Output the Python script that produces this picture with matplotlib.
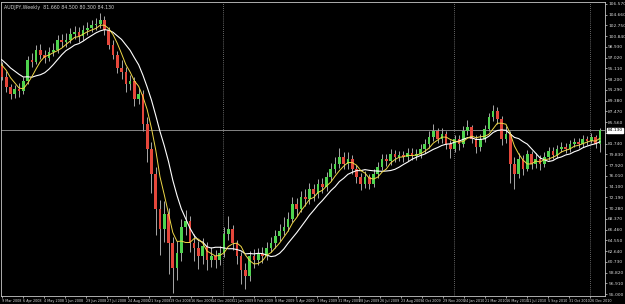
import numpy as np
import pandas as pd
import matplotlib
matplotlib.use("Agg")
import matplotlib.pyplot as plt

######################################
## weekly bars (10 warm-up bars first, not shown)
######################################
opens = [97.20, 97.56, 98.45, 98.09, 97.03, 96.68, 97.56, 96.32, 97.03, 95.97,
         95.62, 93.50, 91.73, 90.49, 91.38, 91.02, 92.79, 96.68, 96.32, 98.45,
         97.56, 97.03, 98.09, 98.45, 100.21, 99.86, 100.21, 101.27, 101.63, 100.92,
         101.98, 102.33, 102.86, 103.04, 103.75, 101.98, 99.33, 97.56, 95.26, 94.56,
         92.26, 92.79, 89.61, 90.49, 85.27, 80.77, 76.36, 70.17, 66.64, 69.29,
         64.00, 59.57, 62.22, 66.99, 68.05, 63.99, 63.11, 61.69, 63.46, 60.99,
         61.69, 60.99, 62.22, 65.76, 66.64, 63.99, 61.69, 59.22, 58.16, 61.69,
         60.99, 62.04, 61.69, 63.11, 63.99, 65.23, 66.29, 66.99, 68.41, 71.06,
         70.17, 72.29, 71.94, 73.71, 72.82, 74.59, 74.06, 75.83, 77.24, 78.12,
         79.36, 78.12, 79.01, 77.24, 75.83, 74.59, 75.83, 74.59, 76.36, 77.60,
         79.01, 78.65, 79.89, 79.36, 79.71, 79.36, 80.07, 79.54, 79.89, 80.77,
         81.66, 82.90, 83.96, 82.54, 83.43, 81.66, 80.77, 82.54, 81.66, 83.96,
         84.66, 82.54, 81.13, 82.54, 84.31, 86.43, 87.49, 86.08, 82.54, 83.43,
         78.12, 76.36, 79.01, 77.24, 79.89, 78.12, 79.01, 78.12, 79.36, 80.42,
         79.71, 80.77, 81.13, 80.77, 81.66, 82.01, 81.66, 82.54, 82.19, 82.90,
         81.66]
closes = [97.56, 98.45, 98.09, 97.03, 96.68, 97.56, 96.32, 97.03, 95.97, 95.62,
          93.50, 91.73, 90.49, 91.38, 91.02, 92.79, 96.68, 96.32, 98.45, 97.56,
          97.03, 98.09, 98.45, 100.21, 99.86, 100.21, 101.27, 101.63, 100.92, 101.98,
          102.33, 102.86, 103.04, 103.75, 101.98, 99.33, 97.56, 95.26, 94.56, 92.26,
          92.79, 89.61, 90.49, 85.27, 80.77, 76.36, 70.17, 66.64, 69.29, 64.00,
          59.57, 62.22, 66.99, 68.05, 63.99, 63.11, 61.69, 63.46, 60.99, 61.69,
          60.99, 62.22, 65.76, 66.64, 63.99, 61.69, 59.22, 58.16, 61.69, 60.99,
          62.04, 61.69, 63.11, 63.99, 65.23, 66.29, 66.99, 68.41, 71.06, 70.17,
          72.29, 71.94, 73.71, 72.82, 74.59, 74.06, 75.83, 77.24, 78.12, 79.36,
          78.12, 79.01, 77.24, 75.83, 74.59, 75.83, 74.59, 76.36, 77.60, 79.01,
          78.65, 79.89, 79.36, 79.71, 79.36, 80.07, 79.54, 79.89, 80.77, 81.66,
          82.90, 83.96, 82.54, 83.43, 81.66, 80.77, 82.54, 81.66, 83.96, 84.66,
          82.54, 81.13, 82.54, 84.31, 86.43, 87.49, 86.08, 82.54, 83.43, 78.12,
          76.36, 79.01, 77.24, 79.89, 78.12, 79.01, 78.12, 79.36, 80.42, 79.71,
          80.77, 81.13, 80.77, 81.66, 82.01, 81.66, 82.54, 82.19, 82.90, 81.66,
          84.13]
highs = [98.3, 99.2, 99.0, 98.6, 97.6, 98.1, 97.9, 97.6, 97.5, 96.6,
         96.3, 94.6, 92.4, 92.1, 92.6, 93.6, 97.4, 97.9, 99.3, 99.5,
         98.4, 99.0, 99.6, 101.1, 101.3, 101.4, 102.3, 102.6, 102.4, 102.9,
         103.4, 103.7, 104.0, 104.98, 104.5, 102.5, 100.2, 98.2, 96.6, 95.3,
         94.0, 93.5, 91.7, 91.2, 86.4, 82.0, 77.5, 71.8, 71.5, 70.3,
         65.2, 64.5, 68.4, 70.0, 68.8, 65.6, 64.4, 65.0, 64.3, 63.4,
         62.9, 63.5, 66.9, 68.8, 67.3, 64.6, 62.4, 60.5, 62.6, 63.0,
         63.2, 63.4, 64.2, 65.1, 66.3, 67.5, 68.7, 69.6, 72.3, 72.0,
         73.4, 73.6, 74.8, 74.6, 75.5, 75.6, 76.7, 78.3, 79.4, 80.9,
         80.3, 80.2, 79.7, 78.0, 76.6, 76.8, 76.4, 77.2, 78.5, 79.9,
         79.9, 80.8, 80.6, 80.5, 80.4, 81.0, 80.9, 80.8, 81.6, 82.6,
         83.9, 85.3, 84.6, 84.5, 84.0, 82.3, 83.3, 83.2, 84.8, 85.9,
         85.0, 83.2, 83.4, 85.0, 87.1, 88.6, 88.2, 86.6, 84.8, 83.9,
         79.4, 80.0, 79.8, 80.6, 80.4, 80.1, 79.7, 80.2, 81.2, 81.1,
         81.5, 82.0, 81.9, 82.4, 82.8, 82.7, 83.3, 83.1, 83.6, 83.3,
         84.5]
lows = [96.6, 97.0, 97.5, 96.5, 95.9, 96.2, 95.8, 96.0, 95.5, 94.9,
        93.0, 90.9, 89.6, 89.8, 90.1, 90.6, 92.3, 95.4, 95.9, 96.8,
        96.0, 96.4, 97.4, 97.9, 98.9, 99.0, 99.6, 100.4, 99.8, 100.2,
        101.1, 101.5, 102.0, 102.3, 101.0, 98.6, 96.8, 94.3, 93.2, 91.0,
        91.2, 88.5, 88.7, 84.0, 78.5, 72.9, 65.5, 62.0, 64.2, 58.5,
        55.1, 57.5, 60.8, 65.5, 62.5, 60.9, 59.5, 60.4, 59.2, 59.8,
        59.6, 60.1, 61.5, 64.6, 62.8, 60.3, 56.8, 55.9, 57.3, 59.7,
        60.1, 60.5, 61.0, 62.4, 63.2, 64.4, 65.5, 66.2, 67.8, 68.9,
        69.5, 70.6, 71.0, 71.5, 72.1, 72.9, 73.4, 75.1, 76.5, 77.4,
        77.2, 77.3, 76.3, 74.7, 73.5, 73.9, 73.6, 74.0, 75.7, 77.0,
        77.8, 78.0, 78.5, 78.6, 78.4, 78.7, 78.8, 78.9, 79.2, 80.1,
        81.0, 82.2, 81.8, 81.9, 80.8, 79.2, 80.2, 80.6, 81.2, 83.2,
        81.8, 80.1, 80.5, 82.0, 83.9, 85.7, 85.3, 81.5, 81.8, 74.8,
        73.6, 75.6, 76.1, 76.8, 77.3, 77.4, 77.0, 77.6, 78.9, 79.0,
        79.2, 80.2, 80.0, 80.3, 81.2, 80.9, 81.2, 81.5, 81.8, 81.0,
        80.3]

n_warmup = 10
price_ticks = [106.570, 104.660, 102.750, 100.840, 98.930, 97.020, 95.110, 93.200,
               91.290, 89.380, 87.470, 85.560, 83.650, 81.740, 79.830, 77.920,
               76.010, 74.100, 72.190, 70.280, 68.370, 66.460, 64.550, 62.640,
               60.730, 58.820, 56.910, 55.000]
date_labels = ["9 Mar 2008", "6 Apr 2008", "4 May 2008", "1 Jun 2008", "29 Jun 2008",
               "27 Jul 2008", "24 Aug 2008", "21 Sep 2008", "19 Oct 2008", "16 Nov 2008",
               "14 Dec 2008", "11 Jan 2009", "8 Feb 2009", "8 Mar 2009", "5 Apr 2009",
               "3 May 2009", "31 May 2009", "28 Jun 2009", "26 Jul 2009", "23 Aug 2009",
               "4 Oct 2009", "29 Nov 2009", "24 Jan 2010", "21 Mar 2010", "16 May 2010",
               "11 Jul 2010", "5 Sep 2010", "31 Oct 2010", "26 Dec 2010"]
year_breaks = [62, 116, 148]   # bar index of new-year separators

######################################
## plot
######################################
plt.rcParams["font.family"] = ["Liberation Sans Narrow", "DejaVu Sans"]

df = pd.DataFrame({"o": opens, "h": highs, "l": lows, "c": closes})
ma_fast = df["c"].rolling(5, min_periods=1).mean()
ma_slow = df["c"].rolling(10, min_periods=1).mean()
idx = np.arange(len(df))
up = df["c"] >= df["o"]

fig = plt.figure(figsize=(6.25, 3.04), dpi=100, facecolor="black")
ax = fig.add_axes([0.0016, 0.0263, 0.9664, 0.9671], facecolor="black")

for xb in year_breaks:
    ax.axvline(xb - 0.2, color="#8a8a8a", lw=0.6, ls=(0, (1, 1.5)), zorder=1)

ax.vlines(idx, df["l"], df["h"], color="#a8a8a8", lw=0.7, zorder=2)
body = (df["c"] - df["o"]).abs().clip(lower=0.12)
bottom = df[["o", "c"]].min(axis=1)
ax.bar(idx[up], body[up], bottom=bottom[up], width=0.62, color="#4fd44f", lw=0, zorder=3)
ax.bar(idx[~up], body[~up], bottom=bottom[~up], width=0.62, color="#e5473b", lw=0, zorder=3)

ax.plot(idx, ma_slow, color="white", lw=0.8, zorder=4)
ax.plot(idx, ma_fast, color="#f0d848", lw=0.7, zorder=5)

last = closes[-1]
ax.axhline(last, color="#9a9a9a", lw=0.6, zorder=1)

ax.set_xlim(n_warmup - 0.23, n_warmup + 141.2)
ax.set_ylim(54.65, 106.92)

ax.yaxis.tick_right()
ax.set_yticks(price_ticks)
ax.set_yticklabels(["%.3f" % p for p in price_ticks])
ax.set_xticks(n_warmup + np.arange(len(date_labels)) * 4.92)
ax.set_xticklabels(date_labels, ha="left")
ax.tick_params(axis="both", colors="#d8d8d8", length=1.5, width=0.5, pad=0.8)
ax.tick_params(axis="y", labelsize=3.2)
ax.tick_params(axis="x", labelsize=2.4)
for s in ax.spines.values():
    s.set_color("#c8c8c8")
    s.set_linewidth(0.6)

ax.annotate("%.3f" % last, xy=(1.004, last), xycoords=("axes fraction", "data"),
            fontsize=3.2, color="black", va="center", ha="left",
            bbox=dict(boxstyle="square,pad=0.15", fc="white", ec="white"), zorder=10,
            annotation_clip=False)

fig.text(0.006, 0.975, "AUDJPY,Weekly  %.3f %.3f %.3f %.3f"
         % (opens[-1], highs[-1], lows[-1], closes[-1]),
         color="#d0d0d0", fontsize=3.4, va="center", ha="left")

fig.savefig("out.png", dpi=100, facecolor="black")
